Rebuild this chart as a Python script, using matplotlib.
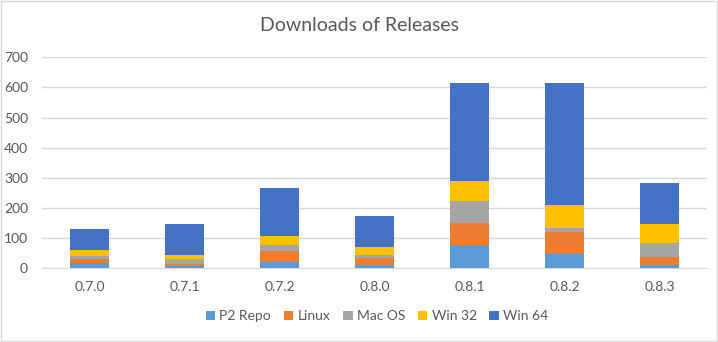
import matplotlib
matplotlib.use("Agg")
import matplotlib.pyplot as plt
from matplotlib.patches import Rectangle
import numpy as np

# Release download counts, stacked by platform
releases = ["0.7.0", "0.7.1", "0.7.2", "0.8.0", "0.8.1", "0.8.2", "0.8.3"]
p2_repo = [18, 8, 21, 10, 77, 49, 10]
linux = [13, 7, 36, 24, 73, 72, 28]
mac_os = [10, 16, 20, 10, 73, 13, 46]
win_32 = [20, 13, 30, 27, 66, 76, 63]
win_64 = [70, 103, 159, 103, 325, 405, 136]

series = [
    ("P2 Repo", p2_repo, "#5b9bd5"),
    ("Linux", linux, "#ed7d31"),
    ("Mac OS", mac_os, "#a5a5a5"),
    ("Win 32", win_32, "#ffc000"),
    ("Win 64", win_64, "#4472c4"),
]

plt.rcParams["font.family"] = ["Lato", "DejaVu Sans"]

fig = plt.figure(figsize=(7.18, 3.42), dpi=100)
ax = fig.add_axes([0.0585, 0.2155, 0.9262, 0.617])

x = np.arange(len(releases))
bottom = np.zeros(len(releases))
for name, vals, color in series:
    ax.bar(x, vals, width=0.41, bottom=bottom, color=color, label=name, zorder=3)
    bottom += np.array(vals)

ax.set_xlim(-0.5, len(releases) - 0.5)
ax.set_ylim(0, 700)
ax.set_yticks(range(0, 701, 100))
ax.set_xticks(x)
ax.set_xticklabels(releases)
ax.grid(axis="y", color="#d9d9d9", linewidth=1, zorder=0)
for side in ("top", "right", "left"):
    ax.spines[side].set_visible(False)
ax.spines["bottom"].set_color("#d9d9d9")
ax.tick_params(axis="both", length=0, labelsize=10, colors="#595959")
ax.tick_params(axis="x", pad=9)
ax.tick_params(axis="y", pad=10)

fig.text(0.5, 0.925, "Downloads of Releases", ha="center", va="center",
         fontsize=14, color="#595959")

fig.legend(loc="center", bbox_to_anchor=(0.525, 0.075), ncol=5, frameon=False,
           fontsize=10, handlelength=0.7, handleheight=0.7, handletextpad=0.3,
           columnspacing=0.9, labelcolor="#595959")

# light chart border
fig.patches.append(Rectangle((0.001, 0.004), 0.997, 0.993, transform=fig.transFigure,
                             fill=False, edgecolor="#d9d9d9", linewidth=1))

fig.savefig("out.png", dpi=100)
